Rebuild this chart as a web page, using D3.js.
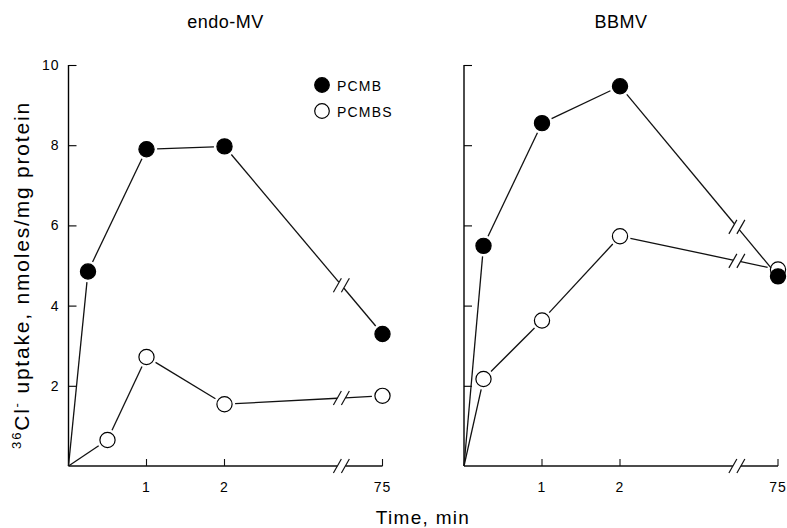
<!DOCTYPE html>
<html>
<head>
<meta charset="utf-8">
<script src="https://cdn.jsdelivr.net/npm/d3@7"></script>
<style>
  body { margin: 0; background: #fff; }
  svg { font-family: "Liberation Sans", Arial, Helvetica, sans-serif; }
</style>
</head>
<body>
<svg width="787" height="528"></svg>
<script>
// data (time in min, uptake in nmoles/mg protein)
let panels = ['endo-MV', 'BBMV'];
let pcmbTimes = [[0, 0.25, 1, 2, 75], [0, 0.25, 1, 2, 75]];
let pcmbValues = [[0, 4.85, 7.9, 7.97, 3.29], [0, 5.49, 8.55, 9.47, 4.73]];
let pcmbsTimes = [[0, 0.5, 1, 2, 75], [0, 0.25, 1, 2, 75]];
let pcmbsValues = [[0, 0.65, 2.72, 1.54, 1.75], [0, 2.17, 3.63, 5.73, 4.9]];
let yTicks = [2, 4, 6, 8, 10];
let xTicks = [1, 2, 75];
let breakAt = 56; // where the axis break sits on the 2..75 stretch

let svg = d3.select('svg');
let height = 401;
let panelLeft = [68.5, 464];
let topY = 65;
let r = 7.6;

let y = d3.scaleLinear().domain([0, 10]).range([height, 0]);
let x = d3.scaleLinear().domain([0, 2, 75]).range([0, 156, 314]);

// a segment, trimmed at ends that sit under a marker
function trim(p0, p1, cut0, cut1) {
  let dx = p1[0] - p0[0], dy = p1[1] - p0[1];
  let len = Math.sqrt(dx * dx + dy * dy);
  let ux = dx / len, uy = dy / len;
  return [[p0[0] + ux * cut0, p0[1] + uy * cut0], [p1[0] - ux * cut1, p1[1] - uy * cut1]];
}

function slashes(g, cx, cy) {
  [-4, 4].forEach(off => {
    g.append('line')
      .attr('x1', cx + off - 4).attr('y1', cy + 7)
      .attr('x2', cx + off + 4).attr('y2', cy - 7)
      .attr('stroke', '#111').attr('stroke-width', 1.2);
  });
}

function drawSeries(g, times, values, filled) {
  let pts = times.map((t, i) => [x(t), y(values[i])]);
  let gap = r + 3;
  for (let i = 0; i < pts.length - 1; i++) {
    let a = pts[i], b = pts[i + 1];
    let cutA = i === 0 ? 0 : gap;
    if (times[i + 1] === 75) {
      // broken segment
      let bx = x(breakAt);
      let f = (bx - a[0]) / (b[0] - a[0]);
      let by = a[1] + f * (b[1] - a[1]);
      let s1 = trim(a, [bx, by], cutA, 4);
      let s2 = trim([bx, by], b, 4, gap);
      [s1, s2].forEach(s => g.append('line')
        .attr('x1', s[0][0]).attr('y1', s[0][1])
        .attr('x2', s[1][0]).attr('y2', s[1][1])
        .attr('stroke', '#111').attr('stroke-width', 1.3));
      slashes(g, bx, by);
    } else {
      let s = trim(a, b, cutA, gap);
      g.append('line')
        .attr('x1', s[0][0]).attr('y1', s[0][1])
        .attr('x2', s[1][0]).attr('y2', s[1][1])
        .attr('stroke', '#111').attr('stroke-width', 1.3);
    }
  }
  g.selectAll(null)
    .data(pts.slice(1))
    .enter()
    .append('circle')
      .attr('cx', d => d[0])
      .attr('cy', d => d[1])
      .attr('r', r)
      .attr('fill', filled ? '#000' : '#fff')
      .attr('stroke', '#000')
      .attr('stroke-width', 1.2);
}

panels.forEach((name, p) => {
  let g = svg.append('g')
    .attr('transform', `translate(${panelLeft[p]}, ${topY})`);

  g.append('text')
    .attr('x', 157).attr('y', -37)
    .attr('text-anchor', 'middle')
    .attr('font-size', 18)
    .attr('letter-spacing', 0.5)
    .text(name);

  // y axis, ticks pointing inward
  let yAxis = d3.axisRight(y).tickValues(yTicks).tickSize(8).tickFormat('');
  let ya = g.append('g').call(yAxis);
  ya.select('.domain').attr('d', `M0,${height}V${y(10)}`).attr('stroke-width', 1.4);
  ya.selectAll('line').attr('stroke-width', 1.1);

  if (p === 0) {
    g.selectAll('.ylab')
      .data(yTicks)
      .enter()
      .append('text')
        .attr('x', -9)
        .attr('y', d => y(d) + 5)
        .attr('text-anchor', 'end')
        .attr('font-size', 14)
        .attr('letter-spacing', 1)
        .text(d => d);
  }

  // x axis with a break before 75
  let bx = x(breakAt);
  g.append('line')
    .attr('x1', 0).attr('y1', height).attr('x2', bx - 4).attr('y2', height)
    .attr('stroke', '#111').attr('stroke-width', 1.4);
  g.append('line')
    .attr('x1', bx + 4).attr('y1', height).attr('x2', x(75)).attr('y2', height)
    .attr('stroke', '#111').attr('stroke-width', 1.4);
  slashes(g, bx, height);

  g.selectAll('.xtick')
    .data(xTicks)
    .enter()
    .append('line')
      .attr('x1', d => x(d)).attr('x2', d => x(d))
      .attr('y1', height).attr('y2', height - 7)
      .attr('stroke', '#111').attr('stroke-width', 1.1);

  g.selectAll('.xlab')
    .data(xTicks)
    .enter()
    .append('text')
      .attr('x', d => x(d))
      .attr('y', height + 26)
      .attr('text-anchor', 'middle')
      .attr('font-size', 14)
      .attr('letter-spacing', 1)
      .text(d => d);

  drawSeries(g, pcmbsTimes[p], pcmbsValues[p], false);
  drawSeries(g, pcmbTimes[p], pcmbValues[p], true);
});

// legend
let legend = [['PCMB', true], ['PCMBS', false]];
let lg = svg.append('g').attr('transform', 'translate(322, 85)');
legend.forEach((d, i) => {
  lg.append('circle')
    .attr('cx', 0).attr('cy', i * 26).attr('r', 7.3)
    .attr('fill', d[1] ? '#000' : '#fff')
    .attr('stroke', '#000').attr('stroke-width', 1.2);
  lg.append('text')
    .attr('x', 15).attr('y', i * 26 + 6)
    .attr('font-size', 14)
    .attr('letter-spacing', 1.2)
    .text(d[0]);
});

// axis titles
svg.append('text')
  .attr('x', 423).attr('y', 524)
  .attr('text-anchor', 'middle')
  .attr('font-size', 19)
  .attr('letter-spacing', 1.3)
  .text('Time, min');

let yl = svg.append('text')
  .attr('transform', 'translate(29, 275) rotate(-90)')
  .attr('text-anchor', 'middle')
  .attr('font-size', 21)
  .attr('letter-spacing', 1.8);
yl.append('tspan').attr('font-size', 13).attr('dy', -8).text('36');
yl.append('tspan').attr('dy', 8).text('Cl');
yl.append('tspan').attr('font-size', 13).attr('dy', -8).text('-');
yl.append('tspan').attr('dy', 8).text(' uptake, nmoles/mg protein');
</script>
</body>
</html>
